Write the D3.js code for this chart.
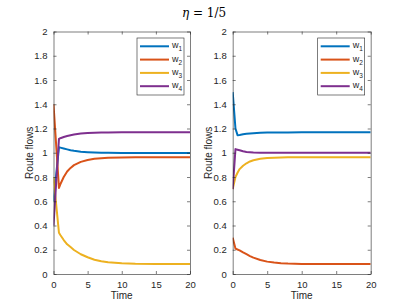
<!DOCTYPE html>
<html>
<head>
<meta charset="utf-8">
<title>Route flows</title>
<script src="https://d3js.org/d3.v7.min.js"></script>
<style>
  body { margin: 0; background: #fff; }
  text { font-family: "Liberation Sans", Arial, sans-serif; }
</style>
</head>
<body>
<script>
// time samples and route flows
var tLeft = [0, 0.8, 1, 1.5, 2, 2.5, 3, 4, 5, 6, 7, 8, 10, 12, 15, 20];
var w1Left = [0.6, 1.045, 1.042, 1.035, 1.028, 1.021, 1.016, 1.009, 1.005, 1.002, 1.0, 0.999, 0.998, 0.998, 0.998, 0.998];
var w2Left = [1.4, 0.71, 0.74, 0.80, 0.845, 0.875, 0.898, 0.925, 0.94, 0.95, 0.955, 0.958, 0.961, 0.962, 0.963, 0.963];
var w3Left = [0.8, 0.34, 0.322, 0.28, 0.245, 0.222, 0.198, 0.163, 0.138, 0.118, 0.105, 0.097, 0.088, 0.084, 0.082, 0.082];
var w4Left = [0.4, 1.115, 1.12, 1.13, 1.138, 1.145, 1.15, 1.158, 1.162, 1.165, 1.167, 1.168, 1.169, 1.17, 1.17, 1.17];

var tRight = [0, 0.4, 0.7, 1, 1.5, 2, 2.5, 3, 4, 5, 6, 7, 8, 10, 12, 15, 20];
var w1Right = [1.5, 1.2, 1.145, 1.147, 1.152, 1.156, 1.159, 1.161, 1.164, 1.166, 1.167, 1.168, 1.168, 1.169, 1.169, 1.169, 1.169];
var w2Right = [0.3, 0.21, 0.202, 0.195, 0.178, 0.163, 0.148, 0.135, 0.115, 0.102, 0.094, 0.089, 0.086, 0.083, 0.082, 0.082, 0.082];
var w3Right = [0.7, 0.80, 0.835, 0.865, 0.893, 0.913, 0.928, 0.938, 0.95, 0.956, 0.959, 0.961, 0.962, 0.963, 0.963, 0.963, 0.963];
var w4Right = [0.7, 1.03, 1.025, 1.02, 1.012, 1.007, 1.005, 1.003, 1.001, 1.0, 1.0, 1.0, 1.0, 1.0, 1.0, 1.0, 1.0];

var seriesNames = ["w1", "w2", "w3", "w4"];
var colors = ["#0072BD", "#D95319", "#EDB120", "#7E2F8E"];
var xTicks = [0, 5, 10, 15, 20];
var yTicks = [0, 0.2, 0.4, 0.6, 0.8, 1, 1.2, 1.4, 1.6, 1.8, 2];

var W = 409, H = 307;
var axisColor = "#262626";

var svg = d3.select("body").append("svg")
    .attr("width", W)
    .attr("height", H);

// title, LaTeX style
var title = svg.append("text")
    .attr("x", 204)
    .attr("y", 17)
    .attr("text-anchor", "middle")
    .style("font-family", "'DejaVu Serif', 'Liberation Serif', serif")
    .style("font-size", "12px")
    .attr("fill", "#000");
title.append("tspan").style("font-style", "italic").text("η");
title.append("tspan").text(" = 1/5");

function drawPanel(left, right, t, series) {
    var top = 31.5, bottom = 274;
    var x = d3.scaleLinear().domain([0, 20]).range([left, right]);
    var y = d3.scaleLinear().domain([0, 2]).range([bottom, top]);

    var g = svg.append("g");

    var clipId = "clip" + Math.round(left);
    g.append("clipPath").attr("id", clipId)
        .append("rect")
        .attr("x", left).attr("y", top)
        .attr("width", right - left).attr("height", bottom - top);

    // lines
    var line = d3.line()
        .x(function(d) { return x(d[0]); })
        .y(function(d) { return y(d[1]); });

    series.forEach(function(s, i) {
        g.append("path")
            .datum(t.map(function(tt, j) { return [tt, s[j]]; }))
            .attr("d", line)
            .attr("fill", "none")
            .attr("stroke", colors[i])
            .attr("stroke-width", 2)
            .attr("stroke-linejoin", "round")
            .attr("clip-path", "url(#" + clipId + ")");
    });

    // axes with ticks inward, box on
    var tl = -3;
    g.append("g").attr("transform", "translate(0," + bottom + ")")
        .call(d3.axisBottom(x).tickValues(xTicks).tickSizeInner(tl).tickSizeOuter(0).tickPadding(7));
    g.append("g").attr("transform", "translate(0," + top + ")")
        .call(d3.axisTop(x).tickValues(xTicks).tickSizeInner(tl).tickSizeOuter(0).tickFormat(""));
    g.append("g").attr("transform", "translate(" + left + ",0)")
        .call(d3.axisLeft(y).tickValues(yTicks).tickSizeInner(tl).tickSizeOuter(0).tickPadding(6)
            .tickFormat(d3.format("~g")));
    g.append("g").attr("transform", "translate(" + right + ",0)")
        .call(d3.axisRight(y).tickValues(yTicks).tickSizeInner(tl).tickSizeOuter(0).tickFormat(""));

    g.selectAll(".domain").attr("stroke", axisColor).attr("stroke-width", 0.6);
    g.selectAll(".tick line").attr("stroke", axisColor).attr("stroke-width", 0.6);
    g.selectAll(".tick text")
        .attr("fill", axisColor)
        .style("font-size", "9.5px")
        .style("font-family", "'Liberation Sans', Arial, sans-serif");

    // axis labels
    g.append("text")
        .attr("x", (left + right) / 2)
        .attr("y", 299)
        .attr("text-anchor", "middle")
        .attr("fill", axisColor)
        .style("font-size", "10px")
        .text("Time");
    g.append("text")
        .attr("transform", "translate(" + (left - 21) + "," + ((top + bottom) / 2) + ") rotate(-90)")
        .attr("text-anchor", "middle")
        .attr("fill", axisColor)
        .style("font-size", "10px")
        .text("Route flows");

    // legend
    var lx = right - 53, ly = 38;
    var leg = g.append("g");
    leg.append("rect")
        .attr("x", lx).attr("y", ly)
        .attr("width", 47).attr("height", 57)
        .attr("fill", "#fff")
        .attr("stroke", axisColor)
        .attr("stroke-width", 0.6);
    seriesNames.forEach(function(name, i) {
        var yy = ly + 8.3 + i * 13.3;
        leg.append("line")
            .attr("x1", lx + 3).attr("x2", lx + 32)
            .attr("y1", yy).attr("y2", yy)
            .attr("stroke", colors[i])
            .attr("stroke-width", 2);
        var tx = leg.append("text")
            .attr("x", lx + 35)
            .attr("y", yy + 2)
            .attr("fill", axisColor)
            .style("font-size", "9px");
        tx.append("tspan").text(name.charAt(0));
        tx.append("tspan").attr("dy", 3).style("font-size", "6.5px").text(name.slice(1));
    });
}

drawPanel(53.5, 190, tLeft, [w1Left, w2Left, w3Left, w4Left]);
drawPanel(232.7, 370.7, tRight, [w1Right, w2Right, w3Right, w4Right]);
</script>
</body>
</html>
